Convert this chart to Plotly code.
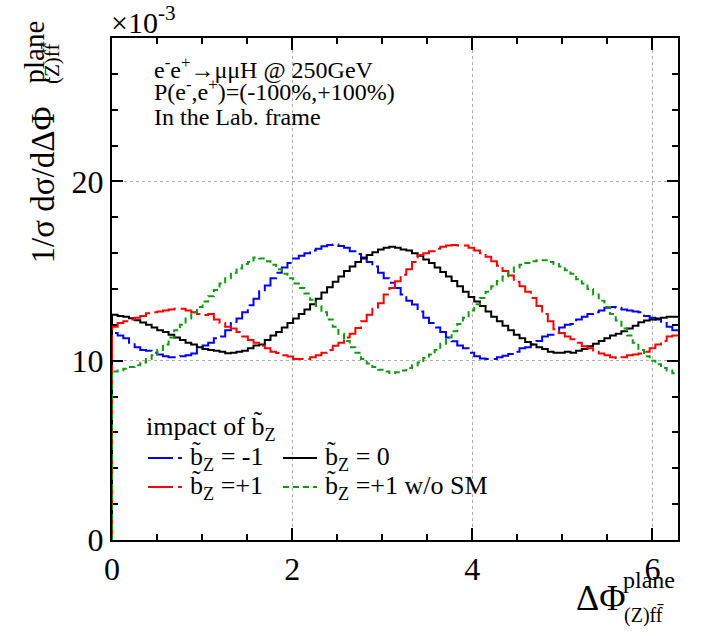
import numpy as np
import plotly.graph_objects as go

# ---- data (100 bins over [0, 2*pi]) ----
n_bins = 100
x_lo, x_hi = 0.0, 2 * np.pi

bz_m1 = [11.55, 11.4, 11.25, 11.0, 10.75, 10.6, 10.55, 10.45, 10.35, 10.25,
         10.2, 10.2, 10.25, 10.3, 10.4, 10.65, 10.85, 11.0, 11.25, 11.35,
         11.7, 12.1, 12.35, 12.7, 13.1, 13.45, 13.87, 14.2, 14.6, 14.9,
         15.2, 15.45, 15.7, 15.85, 16.0, 16.15, 16.25, 16.38, 16.45, 16.48,
         16.4, 16.3, 16.1, 15.95, 15.75, 15.5, 15.25, 14.9, 14.6, 14.35,
         14.05, 13.7, 13.35, 13.13, 12.75, 12.4, 12.1, 11.85, 11.6, 11.3,
         11.08, 10.85, 10.7, 10.45, 10.25, 10.12, 10.1, 10.1, 10.2, 10.28,
         10.38, 10.5, 10.7, 10.75, 10.9, 11.1, 11.35, 11.45, 11.55, 11.85,
         12.0, 12.05, 12.3, 12.45, 12.6, 12.7, 12.8, 12.95, 13.0, 12.95,
         12.85, 12.8, 12.75, 12.7, 12.5, 12.4, 12.3, 12.1, 11.9, 11.7]

bz_0 = [12.57, 12.5, 12.45, 12.37, 12.26, 12.13, 12.0, 11.85, 11.7, 11.6,
        11.45, 11.3, 11.15, 11.0, 10.9, 10.75, 10.65, 10.6, 10.55, 10.5,
        10.42, 10.45, 10.5, 10.55, 10.7, 10.85, 10.9, 11.15, 11.4, 11.6,
        11.85, 12.1, 12.35, 12.6, 12.85, 13.15, 13.45, 13.8, 14.1, 14.4,
        14.7, 15.0, 15.25, 15.5, 15.7, 15.9, 16.05, 16.2, 16.3, 16.35,
        16.3, 16.2, 16.15, 16.0, 15.85, 15.65, 15.45, 15.2, 14.95, 14.7,
        14.45, 14.15, 13.85, 13.55, 13.3, 13.05, 12.75, 12.45, 12.2, 11.95,
        11.7, 11.45, 11.25, 11.05, 10.9, 10.75, 10.65, 10.5, 10.45, 10.45,
        10.5, 10.45, 10.55, 10.65, 10.8, 10.95, 11.1, 11.25, 11.4, 11.5,
        11.65, 11.8, 11.95, 12.15, 12.25, 12.3, 12.35, 12.4, 12.45, 12.45]

bz_p1 = [11.9, 12.1, 12.2, 12.3, 12.4, 12.5, 12.65, 12.7, 12.75, 12.8,
         12.85, 12.9, 12.9, 12.8, 12.7, 12.6, 12.55, 12.6, 12.3, 12.1,
         11.9, 11.8, 11.6, 11.35, 11.15, 11.0, 10.84, 10.7, 10.5, 10.43,
         10.3, 10.24, 10.1, 10.09, 10.1, 10.2, 10.3, 10.45, 10.6, 10.84,
         11.0, 11.3, 11.5, 11.83, 12.2, 12.57, 12.9, 13.2, 13.7, 14.06,
         14.43, 14.8, 15.1, 15.5, 15.9, 16.0, 16.1, 16.25, 16.35, 16.42,
         16.45, 16.42, 16.42, 16.3, 16.15, 16.0, 15.8, 15.55, 15.3, 15.0,
         14.75, 14.4, 14.15, 13.85, 13.5, 13.05, 12.6, 12.2, 11.75, 11.55,
         11.35, 11.2, 11.0, 10.8, 10.7, 10.5, 10.4, 10.3, 10.2, 10.15,
         10.2, 10.3, 10.35, 10.4, 10.5, 10.7, 10.9, 11.1, 11.35, 11.4]

bz_p1_noSM = [9.4, 9.45, 9.55, 9.65, 9.75, 9.9, 10.1, 10.3, 10.6, 10.9,
              11.3, 11.7, 12.0, 12.35, 12.7, 13.0, 13.3, 13.6, 13.95, 14.3,
              14.6, 14.9, 15.15, 15.4, 15.5, 15.75, 15.7, 15.55, 15.35, 15.1,
              14.85, 14.6, 14.3, 14.05, 13.75, 13.4, 13.05, 12.7, 12.3, 11.9,
              11.5, 11.1, 10.75, 10.45, 10.1, 9.85, 9.65, 9.5, 9.4, 9.32,
              9.35, 9.45, 9.6, 9.75, 9.9, 10.15, 10.35, 10.6, 10.95, 11.3,
              11.65, 12.05, 12.4, 12.8, 13.15, 13.5, 13.85, 14.15, 14.45, 14.7,
              14.95, 15.2, 15.35, 15.45, 15.55, 15.6, 15.6, 15.5, 15.4, 15.25,
              15.05, 14.85, 14.55, 14.3, 14.0, 13.7, 13.35, 13.0, 12.6, 12.25,
              11.8, 11.4, 11.0, 10.6, 10.25, 10.0, 9.8, 9.6, 9.45, 9.3]

series_names = ["b̃<sub>Z</sub> = -1", "b̃<sub>Z</sub> = 0",
                "b̃<sub>Z</sub> =+1", "b̃<sub>Z</sub> =+1 w/o SM"]
series_vals = [bz_m1, bz_0, bz_p1, bz_p1_noSM]
series_colors = ["#0000ff", "#000000", "#ff0000", "#109a10"]
series_dash = ["25px,5px", "solid", "25px,5px", "6px,4px"]

x_ticks = [0, 2, 4, 6]
y_ticks = [0, 10, 20]

FONT = "Liberation Serif, Times New Roman, serif"
W, H = 706, 636
L, R, T, B = 112, 678, 38, 540

def px(x):
    return (x - L) / (R - L)

def py(y):
    return (B - y) / (B - T)

edges = np.linspace(x_lo, x_hi, n_bins + 1)

fig = go.Figure()
for vals, col, dash in zip(series_vals, series_colors, series_dash):
    xs = [x_lo] + list(edges[:-1]) + [x_hi]
    ys = [0.0] + list(vals) + [vals[-1]]
    fig.add_trace(go.Scatter(x=xs, y=ys, mode="lines", line_shape="hv",
                             line=dict(color=col, width=2, dash=dash),
                             showlegend=False, hoverinfo="skip"))

axis_common = dict(showline=True, linecolor="black", linewidth=2, mirror="allticks",
                   ticks="inside", tickcolor="black", tickwidth=1.5,
                   showgrid=True, gridcolor="#b0b0b0", griddash="dot", gridwidth=1,
                   zeroline=False, layer="below traces",
                   tickfont=dict(family=FONT, size=32, color="black"))

fig.update_xaxes(range=[x_lo, x_hi], tickvals=x_ticks, ticktext=[str(t) for t in x_ticks],
                 ticklen=12, ticklabelstandoff=0,
                 minor=dict(dtick=0.5, ticklen=6, ticks="inside",
                            tickcolor="black", showgrid=False),
                 **axis_common)
fig.update_yaxes(range=[0, 28], tickvals=y_ticks, ticktext=[str(t) for t in y_ticks],
                 ticklen=11, minor=dict(dtick=2, ticklen=6, ticks="inside",
                                        tickcolor="black", showgrid=False),
                 **axis_common)

ann = []
def text(x, y, s, size, xanchor="left", yanchor="middle", angle=0):
    ann.append(dict(x=px(x), y=py(y), xref="paper", yref="paper", text=s,
                    showarrow=False, xanchor=xanchor, yanchor=yanchor,
                    textangle=angle, font=dict(family=FONT, size=size, color="black")))

# y-axis title (rotated, anchored at its lower end)
text(42, 266, "1/σ dσ/dΔΦ", 33, "center", "bottom", -90)
text(33, 86, "plane", 29, "center", "bottom", -90)
text(52, 86, "(Z)ff̄", 21, "center", "bottom", -90)

# x-axis title
text(600, 598, "ΔΦ", 36, "center", "middle")
text(649, 580, "plane", 24, "center", "middle")
text(644, 615, "(Z)ff̄", 20, "center", "middle")

# exponent
text(109, 20, "×10<sup>-3</sup>", 30, "left", "middle")

# info text
text(152, 68, "e<sup>-</sup>e<sup>+</sup>→μμH @ 250GeV", 24)
text(152, 90, "P(e<sup>-</sup>,e<sup>+</sup>)=(-100%,+100%)", 24)
text(152, 117, "In the Lab. frame", 24)

# legend
text(144, 428, "impact of b̃<sub>Z</sub>", 26)
leg_pos = [(148, 458), (283, 458), (148, 487), (283, 487)]
shapes = []
for (lx, ly), name, col, dash in zip(leg_pos, series_names, series_colors, series_dash):
    shapes.append(dict(type="line", xref="paper", yref="paper",
                       x0=px(lx), x1=px(lx + 34), y0=py(ly), y1=py(ly),
                       line=dict(color=col, width=2, dash=dash)))
    text(lx + 40, ly, name, 26)

fig.update_layout(width=W, height=H, margin=dict(l=L, r=W - R, t=T, b=H - B),
                  plot_bgcolor="white", paper_bgcolor="white",
                  annotations=ann, shapes=shapes, showlegend=False)

fig.write_html("out.html", config={"displayModeBar": False},
               post_script="document.body.style.margin='0';"
                           "document.body.style.overflow='hidden';")
